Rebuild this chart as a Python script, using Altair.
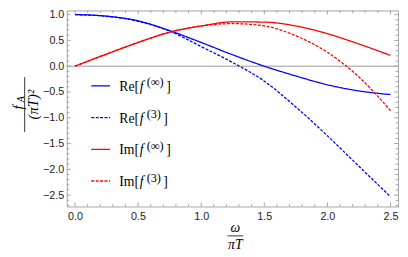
import altair as alt
import pandas as pd

# ---- data ----
omega = [0.0, 0.25, 0.5, 0.75, 1.0, 1.25, 1.5, 1.75, 2.0, 2.25, 2.5]
re_inf = [1.0, 0.97, 0.88, 0.69, 0.46, 0.22, 0.0, -0.19, -0.36, -0.48, -0.55]
re_3 = [1.0, 0.968, 0.87, 0.68, 0.38, 0.07, -0.29, -0.79, -1.35, -1.94, -2.53]
im_inf = [0.0, 0.235, 0.46, 0.66, 0.78, 0.86, 0.855, 0.78, 0.63, 0.43, 0.21]
im_3 = [0.0, 0.235, 0.46, 0.66, 0.78, 0.825, 0.78, 0.59, 0.27, -0.21, -0.86]

series_names = ["Re_inf", "Re_3", "Im_inf", "Im_3"]
series_colors = ["#0000ff", "#0000ff", "#ff0000", "#ff0000"]
series_dash = [[1, 0], [3, 1.5], [1, 0], [3, 1.5]]
legend_parts = [("Re[", "(\u221e)"), ("Re[", "(3)"), ("Im[", "(\u221e)"), ("Im[", "(3)")]

x_major = [0.0, 0.5, 1.0, 1.5, 2.0, 2.5]
y_major = [-2.5, -2.0, -1.5, -1.0, -0.5, 0.0, 0.5, 1.0]
x_minor = [round(i * 0.1, 1) for i in range(0, 26) if i % 5]
y_minor = [round(i * 0.1, 1) for i in range(-27, 11) if i % 5]

X_DOMAIN = [-0.065, 2.56]
Y_DOMAIN = [-2.72, 1.08]
W, H = 338, 200
FRAME = "#a3a3a3"
SERIF = "Liberation Serif"
SANS = "Liberation Sans"

rows = []
for name, ys in zip(series_names, [re_inf, re_3, im_inf, im_3]):
    for xv, yv in zip(omega, ys):
        rows.append({"x": xv, "y": yv, "series": name})
df = pd.DataFrame(rows)

x_axis = alt.Axis(values=x_major, format=".1f", ticks=False, domain=False, grid=False,
                  labelPadding=4, labelFont=SANS, labelFontSize=11, labelColor="#222222",
                  title=None)
y_axis = alt.Axis(values=y_major, format=".1f", ticks=False, domain=False, grid=False,
                  labelPadding=3, labelFont=SANS, labelFontSize=11, labelColor="#222222",
                  title=None)
x_scale = alt.Scale(domain=X_DOMAIN, nice=False, zero=False)
y_scale = alt.Scale(domain=Y_DOMAIN, nice=False, zero=False)


def xenc(field):
    return alt.X(field, type="quantitative", scale=x_scale, axis=x_axis)


def yenc(field):
    return alt.Y(field, type="quantitative", scale=y_scale, axis=y_axis)


lines = alt.Chart(df).mark_line(strokeWidth=1.3, interpolate="monotone", clip=True).encode(
    x=xenc("x"),
    y=yenc("y"),
    color=alt.Color("series:N", scale=alt.Scale(domain=series_names, range=series_colors), legend=None),
    strokeDash=alt.StrokeDash("series:N", scale=alt.Scale(domain=series_names, range=series_dash), legend=None),
    detail="series:N",
)

zero_line = alt.Chart(pd.DataFrame({"v": [0.0]})).mark_rule(color="#999999", strokeWidth=1).encode(
    y=yenc("v"), x=alt.value(0), x2=alt.value(W)
)

layers = [zero_line]

# inward frame ticks
xt_major = pd.DataFrame({"v": x_major})
xt_minor = pd.DataFrame({"v": x_minor})
yt_major = pd.DataFrame({"v": y_major})
yt_minor = pd.DataFrame({"v": y_minor})
for data, ln in [(xt_major, 4), (xt_minor, 2.5)]:
    layers.append(alt.Chart(data).mark_rule(color=FRAME, strokeWidth=1).encode(
        x=xenc("v"), y=alt.value(H), y2=alt.value(H - ln)))
    layers.append(alt.Chart(data).mark_rule(color=FRAME, strokeWidth=1).encode(
        x=xenc("v"), y=alt.value(0), y2=alt.value(ln)))
for data, ln in [(yt_major, 4), (yt_minor, 2.5)]:
    layers.append(alt.Chart(data).mark_rule(color=FRAME, strokeWidth=1).encode(
        y=yenc("v"), x=alt.value(0), x2=alt.value(ln)))
    layers.append(alt.Chart(data).mark_rule(color=FRAME, strokeWidth=1).encode(
        y=yenc("v"), x=alt.value(W), x2=alt.value(W - ln)))

layers.append(lines)

one = pd.DataFrame({"a": [0]})

# legend
row_y = [77, 109.3, 141.7, 174]
close_x = [101.5, 98.5, 101.5, 98.5]
for i in range(4):
    ry = row_y[i]
    layers.append(alt.Chart(one).mark_rule(color=series_colors[i], strokeWidth=1.3,
                                           strokeDash=series_dash[i]).encode(
        x=alt.value(25), x2=alt.value(44), y=alt.value(ry)))
    pre, sup = legend_parts[i]
    layers.append(alt.Chart(one).mark_text(text=pre, font=SERIF, fontSize=14, align="left",
                                           baseline="alphabetic", color="#000000").encode(
        x=alt.value(53.5), y=alt.value(ry + 5)))
    layers.append(alt.Chart(one).mark_text(text="f", font=SERIF, fontSize=14, fontStyle="italic",
                                           align="left", baseline="alphabetic", color="#000000").encode(
        x=alt.value(74.5), y=alt.value(ry + 5)))
    layers.append(alt.Chart(one).mark_text(text=sup, font=SERIF, fontSize=12.5, align="left",
                                           baseline="alphabetic", color="#000000").encode(
        x=alt.value(81.5), y=alt.value(ry + 0.5)))
    layers.append(alt.Chart(one).mark_text(text="]", font=SERIF, fontSize=14, align="left",
                                           baseline="alphabetic", color="#000000").encode(
        x=alt.value(close_x[i]), y=alt.value(ry + 5)))

# y-axis title (rotated fraction)
layers.append(alt.Chart(one).mark_text(text="f", font=SERIF, fontSize=15, fontStyle="italic",
                                       angle=270, align="center", baseline="middle").encode(
    x=alt.value(-50), y=alt.value(99)))
layers.append(alt.Chart(one).mark_text(text="A", font=SERIF, fontSize=10, fontStyle="italic",
                                       angle=270, align="center", baseline="middle").encode(
    x=alt.value(-46.5), y=alt.value(90.5)))
layers.append(alt.Chart(one).mark_rule(color="#000000", strokeWidth=0.8).encode(
    x=alt.value(-43), y=alt.value(68), y2=alt.value(124)))
layers.append(alt.Chart(one).mark_text(text="(\u03c0T)\u00b2", font=SERIF, fontSize=15, fontStyle="italic",
                                       angle=270, align="center", baseline="middle").encode(
    x=alt.value(-34.5), y=alt.value(96)))

# x-axis title (fraction)
layers.append(alt.Chart(one).mark_text(text="\u03c9", font=SERIF, fontSize=14, fontStyle="italic",
                                       align="center", baseline="middle").encode(
    x=alt.value(172), y=alt.value(222)))
layers.append(alt.Chart(one).mark_rule(color="#000000", strokeWidth=0.8).encode(
    x=alt.value(164), x2=alt.value(180), y=alt.value(230)))
layers.append(alt.Chart(one).mark_text(text="\u03c0T", font=SERIF, fontSize=14, fontStyle="italic",
                                       align="center", baseline="middle").encode(
    x=alt.value(172), y=alt.value(239)))

chart = alt.layer(*layers).properties(
    width=W, height=H,
    padding={"left": 60, "top": 0, "right": 2, "bottom": 49},
    autosize=alt.AutoSizeParams(type="none"),
).configure_view(stroke=FRAME, strokeWidth=1)

chart.save("out.html", embed_options={"renderer": "svg", "actions": False})
